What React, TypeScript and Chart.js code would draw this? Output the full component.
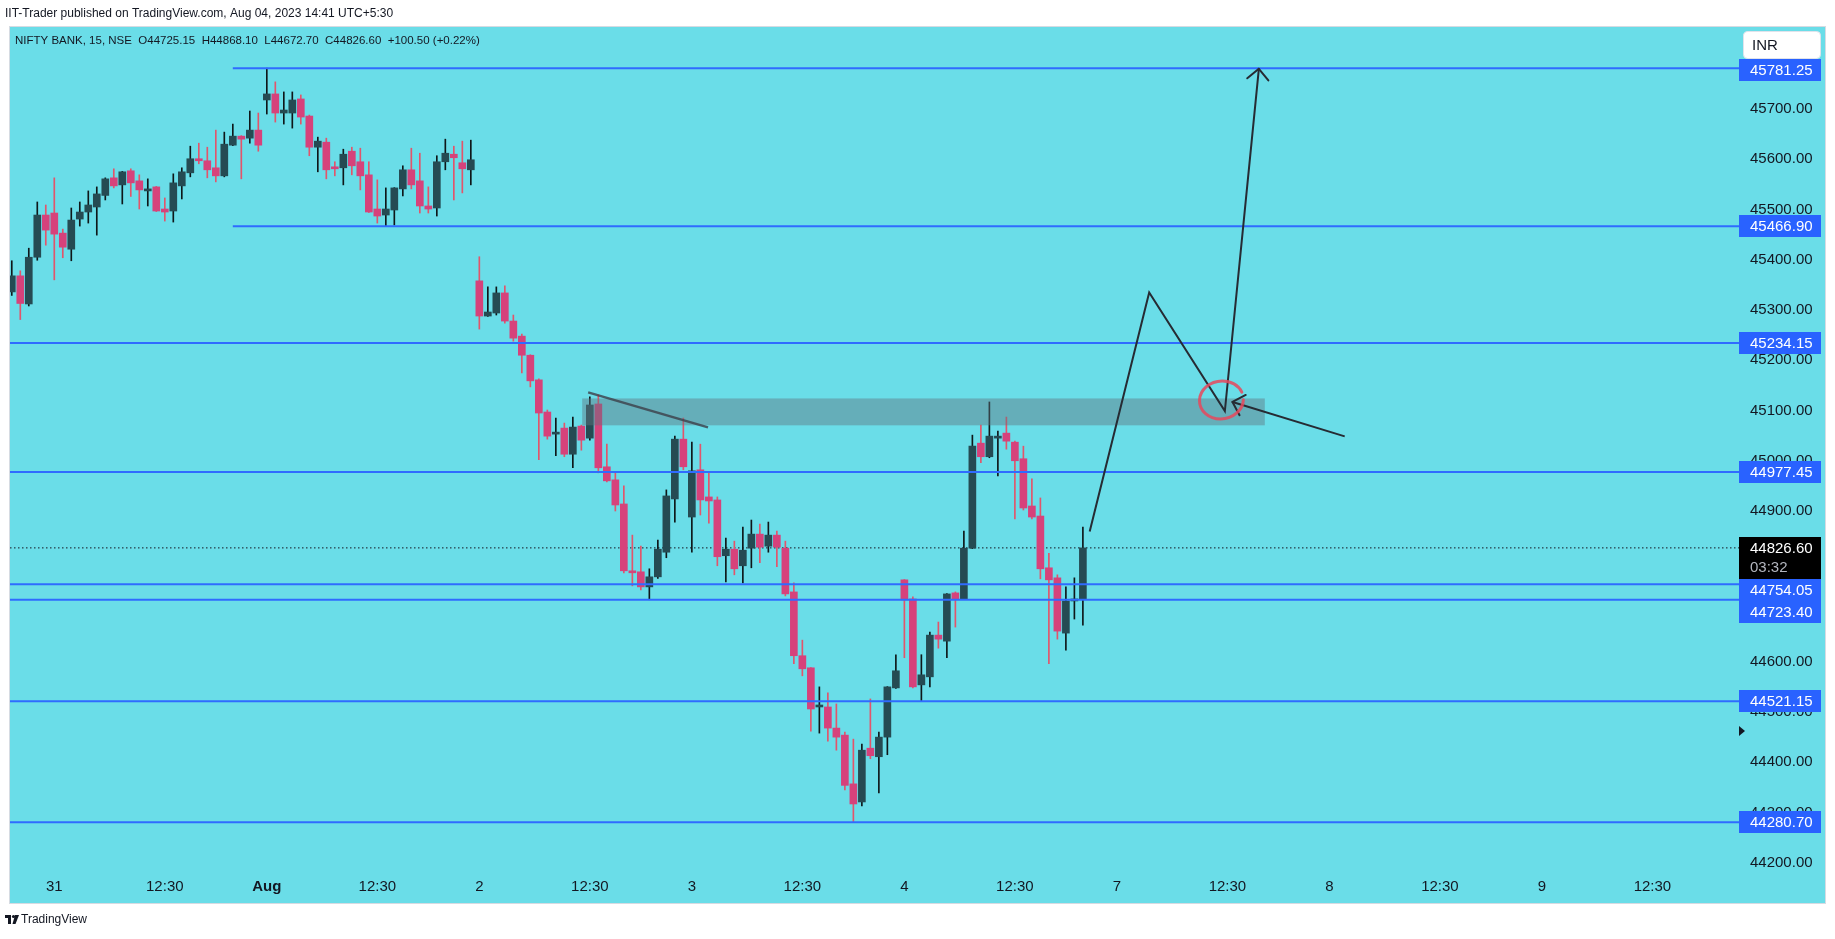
import React, { useEffect, useRef } from 'react';
import { Chart, registerables } from 'chart.js';

Chart.register(...registerables);

const W = 1835;
const H = 939;
const FONT = '"Liberation Sans", Arial, sans-serif';
const CYAN = 'rgb(106,221,232)';

// 15-minute bars, index 0 = 31 Jul 09:15 (negative = 28 Jul tail)
const FIRST_BAR = -5;
const opens = [
  45336, 45368, 45312, 45405, 45489,
  45493, 45453, 45421, 45481, 45495, 45505, 45528, 45563, 45549, 45577, 45557, 45537, 45545, 45501, 45497, 45547, 45573, 45601, 45597, 45583, 45567, 45628, 45646, 45642, 45658,
  45718, 45730, 45692, 45692, 45720, 45686, 45624, 45634, 45585, 45583, 45616, 45595, 45569, 45501, 45489, 45499, 45541, 45579, 45557, 45507, 45503, 45595, 45610, 45593, 45579,
  45358, 45288, 45294, 45334, 45278, 45248, 45210, 45161, 45097, 45053, 45065, 45013, 45069, 45045, 45113, 44988, 44962, 44914, 44781, 44779, 44749, 44769, 44818, 44924, 45043,
  44888, 44982, 44928, 44922, 44811, 44824, 44791, 44826, 44854, 44830, 44852, 44826, 44739, 44612, 44588, 44510, 44510, 44468, 44454, 44357, 44321, 44428, 44411, 44450, 44548,
  44763, 44725, 44554, 44570, 44653, 44641, 44737, 44725, 44826, 45035, 45008, 45045, 45055, 45037, 45004, 44910, 44890, 44787, 44767, 44657, 44721, 44725.15,
];
const highs = [
  45398, 45378, 45423, 45515, 45509,
  45563, 45461, 45503, 45515, 45537, 45545, 45563, 45581, 45576, 45581, 45569, 45561, 45546, 45523, 45571, 45583, 45626, 45632, 45624, 45658, 45654, 45670, 45647, 45696, 45692,
  45781.25, 45754, 45734, 45734, 45728, 45688, 45644, 45642, 45595, 45620, 45624, 45622, 45595, 45559, 45543, 45543.5, 45587, 45622, 45612, 45545, 45607, 45640, 45626, 45636, 45638,
  45406, 45346, 45346, 45348, 45290, 45252, 45211, 45163, 45101, 45085, 45075, 45087, 45071, 45127, 45131, 45033, 44978, 44950, 44852, 44830, 44785, 44842, 44942, 45049, 45085,
  45037, 45033, 44978, 44928, 44846, 44840, 44868, 44882, 44874, 44878, 44860, 44840, 44757, 44643, 44588.5, 44550, 44538, 44516, 44460, 44446, 44436, 44526, 44460, 44550.5, 44614,
  44763.5, 44729, 44614, 44659, 44679, 44735.5, 44739, 44860, 45051, 45071, 45117, 45059, 45087, 45039, 45029, 44964, 44926, 44816, 44773, 44749, 44767, 44868.1,
];
const lows = [
  45329, 45281, 45308, 45399, 45429,
  45360, 45404, 45398, 45467, 45473, 45449, 45519, 45543, 45511, 45526, 45501, 45507, 45496, 45477, 45475, 45521, 45565, 45591, 45563, 45555, 45565, 45627, 45561, 45632, 45616,
  45690, 45674, 45670, 45662, 45670, 45607, 45575, 45561, 45567, 45549, 45569, 45539, 45494, 45473, 45466.9, 45469, 45527, 45541, 45493, 45493, 45487, 45579, 45519, 45533, 45549,
  45262, 45287, 45290, 45274, 45238, 45175, 45147, 45002, 45043, 45010, 45008, 44986, 45021, 45041, 44976, 44958, 44900, 44777, 44751, 44743, 44723.4, 44766, 44807, 44878, 44982,
  44818, 44892, 44876, 44791, 44759, 44773, 44757, 44787, 44797, 44818, 44789, 44731, 44596, 44572, 44462, 44458, 44442, 44424, 44345, 44280.7, 44313, 44407, 44339, 44415, 44547,
  44608, 44548, 44521.15, 44550, 44627, 44608, 44669, 44724, 44825, 44996, 45006, 44970, 45023, 44884, 44902, 44884, 44765, 44596, 44645, 44623, 44685, 44672.7,
];
const closes = [
  45368, 45313, 45405, 45489, 45459,
  45451, 45425, 45479, 45495, 45509, 45531, 45561, 45547, 45575, 45553, 45539, 45541, 45497, 45495, 45553, 45575, 45601, 45597, 45579, 45567, 45630, 45646, 45640, 45658, 45628,
  45730, 45692, 45698, 45718, 45684, 45624, 45636, 45579, 45581, 45610, 45587, 45567, 45495, 45487, 45501, 45543, 45579, 45549, 45507, 45501, 45595, 45612, 45603, 45581, 45599,
  45288, 45296, 45334, 45278, 45244, 45210, 45159, 45095, 45049, 45055, 45013, 45067, 45041, 45111, 44986, 44960, 44912, 44781, 44777, 44749, 44769, 44824, 44930, 45043, 44988,
  44980, 44922, 44920, 44809, 44824, 44785, 44822, 44854, 44828, 44852, 44828, 44735, 44612, 44586, 44506, 44512, 44468, 44450, 44354, 44317, 44424, 44413, 44450, 44550, 44582,
  44723, 44550, 44574, 44653, 44645, 44735, 44725, 44826, 45029, 45008, 45049, 45049, 45039, 45000, 44906, 44888, 44785, 44763, 44661, 44721, 44725, 44826.6,
];

// time axis
const tickPositions = [0, 13, 25, 38, 50, 63, 75, 88, 100, 113, 125, 138, 150, 163, 175, 188];
const tickLabels = ['31', '12:30', 'Aug', '12:30', '2', '12:30', '3', '12:30', '4', '12:30', '7', '12:30', '8', '12:30', '9', '12:30'];
const boldTick = 25;
const X_MIN = -5.21;
const X_MAX = 198.3;

// price axis
const yTickValues = [44200, 44300, 44400, 44500, 44600, 44700, 44800, 44900, 45000, 45100, 45200, 45300, 45400, 45500, 45600, 45700];
const Y_MIN = 44179.6;
const Y_MAX = 45863.2;

// horizontal levels
const levelValues = [45781.25, 45466.9, 45234.15, 44977.45, 44754.05, 44723.4, 44521.15, 44280.7];
const levelStarts = [21, 21, X_MIN, X_MIN, X_MIN, X_MIN, X_MIN, X_MIN];

const lastPrice = 44826.6;
const lastCountdown = '03:32';

// drawings
const zoneX = [62.1, 142.4];
const zoneY = [45070.5, 45124];
const trendX = [62.8, 76.9];
const trendY = [45136, 45066.5];
const zigX = [121.8, 128.8, 137.7, 141.7];
const zigY = [44859, 45335, 45099, 45780];
const arrow2X = [151.8, 138.6];
const arrow2Y = [45048.6, 45117];
const circleCenter = [137.3, 45121];

const BULL_BODY = '#254b53';
const BULL_WICK = '#0e1719';
const BEAR_BODY = '#d6427b';
const BEAR_WICK = '#e2556b';
const LEVEL_COLOR = '#2f6bff';
const LABEL_BG = '#2962ff';

function arrowHead(ctx: CanvasRenderingContext2D, tx: number, ty: number, fx: number, fy: number, len: number, ang: number) {
  const a = Math.atan2(fy - ty, fx - tx);
  for (const s of [-1, 1]) {
    const b = a + (s * ang * Math.PI) / 180;
    ctx.beginPath();
    ctx.moveTo(tx, ty);
    ctx.lineTo(tx + len * Math.cos(b), ty + len * Math.sin(b));
    ctx.stroke();
  }
}

export default function App() {
  const ref = useRef<HTMLCanvasElement | null>(null);

  useEffect(() => {
    const canvas = ref.current;
    if (!canvas) return;

    const bodies: any[] = [];
    const wicks: any[] = [];
    const bodyColors: string[] = [];
    const wickColors: string[] = [];
    for (let k = 0; k < opens.length; k++) {
      const x = FIRST_BAR + k;
      const up = closes[k] >= opens[k];
      bodies.push({ x, y: [opens[k], closes[k]] });
      wicks.push({ x, y: [lows[k], highs[k]] });
      bodyColors.push(up ? BULL_BODY : BEAR_BODY);
      wickColors.push(up ? BULL_WICK : BEAR_WICK);
    }

    const levelSets = levelValues.map((v, k) => ({
      type: 'line' as const,
      data: [{ x: levelStarts[k], y: v }, { x: X_MAX, y: v }],
      borderColor: LEVEL_COLOR,
      borderWidth: 2,
      pointRadius: 0,
      order: 10,
    }));

    const BODY_INDEX = 1;

    const overlay = {
      id: 'overlay',
      beforeDraw(chart: any) {
        const ctx = chart.ctx as CanvasRenderingContext2D;
        ctx.save();
        ctx.fillStyle = '#ffffff';
        ctx.fillRect(0, 0, W, H);
        ctx.fillStyle = CYAN;
        ctx.fillRect(10, 27, 1815, 876);
        ctx.strokeStyle = '#d6dbe2';
        ctx.lineWidth = 1;
        ctx.strokeRect(9.5, 26.5, 1816, 877);
        ctx.restore();
      },
      afterDatasetDraw(chart: any, args: any) {
        if (args.index !== BODY_INDEX) return;
        const ctx = chart.ctx as CanvasRenderingContext2D;
        const xs = chart.scales.x;
        const ys = chart.scales.y;
        const x0 = xs.getPixelForValue(zoneX[0]);
        const x1 = xs.getPixelForValue(zoneX[1]);
        const y0 = ys.getPixelForValue(zoneY[1]);
        const y1 = ys.getPixelForValue(zoneY[0]);
        ctx.save();
        ctx.fillStyle = 'rgba(96,117,128,0.45)';
        ctx.fillRect(x0, y0, x1 - x0, y1 - y0);
        ctx.restore();
      },
      afterDraw(chart: any) {
        const ctx = chart.ctx as CanvasRenderingContext2D;
        const xs = chart.scales.x;
        const ys = chart.scales.y;
        ctx.save();

        // arrow heads
        ctx.strokeStyle = '#262b33';
        ctx.lineWidth = 2;
        ctx.lineCap = 'round';
        const n = zigX.length;
        arrowHead(ctx, xs.getPixelForValue(zigX[n - 1]), ys.getPixelForValue(zigY[n - 1]),
          xs.getPixelForValue(zigX[n - 2]), ys.getPixelForValue(zigY[n - 2]), 15, 45);
        arrowHead(ctx, xs.getPixelForValue(arrow2X[1]), ys.getPixelForValue(arrow2Y[1]),
          xs.getPixelForValue(arrow2X[0]), ys.getPixelForValue(arrow2Y[0]), 15, 45);

        // red circle
        const cx = xs.getPixelForValue(circleCenter[0]);
        const cy = ys.getPixelForValue(circleCenter[1]);
        ctx.strokeStyle = 'rgba(232,72,92,0.85)';
        ctx.lineWidth = 3;
        ctx.beginPath();
        ctx.ellipse(cx, cy, 22, 19, -0.15, Math.PI * 0.05, Math.PI * 1.92);
        ctx.stroke();

        // price labels: stack boxes so they do not overlap (INR button + last price box are fixed)
        const ly = ys.getPixelForValue(lastPrice);
        const lastTop = Math.round(ly) - 11;
        const lastBottom = lastTop + 42;
        const fixed: Array<[number, number]> = [[31, 59], [lastTop, lastBottom]];
        const items = levelValues
          .map((v) => ({ v, y: ys.getPixelForValue(v) }))
          .sort((a, b) => a.y - b.y);
        const placed: Array<[number, number]> = [];
        const boxes: Array<{ v: number; top: number }> = [];
        for (const it of items) {
          let top = Math.round(it.y) - 11;
          let moved = true;
          while (moved) {
            moved = false;
            for (const [a, b] of [...fixed, ...placed]) {
              if (top < b && top + 22 > a) {
                top = b;
                moved = true;
              }
            }
          }
          placed.push([top, top + 22]);
          boxes.push({ v: it.v, top });
        }
        ctx.font = `15px ${FONT}`;
        ctx.textBaseline = 'middle';
        ctx.textAlign = 'left';
        for (const b of boxes) {
          ctx.fillStyle = LABEL_BG;
          ctx.fillRect(1739, b.top, 82, 22);
          ctx.fillStyle = '#ffffff';
          ctx.fillText(b.v.toFixed(2), 1750, b.top + 12);
        }
        ctx.fillStyle = '#000000';
        ctx.fillRect(1739, lastTop, 82, 42);
        ctx.fillStyle = '#ffffff';
        ctx.fillText(lastPrice.toFixed(2), 1750, lastTop + 12);
        ctx.fillStyle = '#b2b5be';
        ctx.fillText(lastCountdown, 1750, lastTop + 31);

        // INR button
        ctx.fillStyle = '#ffffff';
        ctx.strokeStyle = '#e0e3eb';
        ctx.lineWidth = 1;
        ctx.beginPath();
        (ctx as any).roundRect(1743.5, 31.5, 77, 27, 4);
        ctx.fill();
        ctx.stroke();
        ctx.fillStyle = '#131722';
        ctx.fillText('INR', 1752, 46);

        // small marker triangle
        ctx.fillStyle = '#131722';
        ctx.beginPath();
        ctx.moveTo(1739, 726);
        ctx.lineTo(1745, 731);
        ctx.lineTo(1739, 736);
        ctx.closePath();
        ctx.fill();

        // header texts
        ctx.fillStyle = '#131722';
        ctx.font = `12px ${FONT}`;
        ctx.fillText('IIT-Trader published on TradingView.com, Aug 04, 2023 14:41 UTC+5:30', 5, 14);
        ctx.font = `11.5px ${FONT}`;
        ctx.fillText('NIFTY BANK, 15, NSE  O44725.15  H44868.10  L44672.70  C44826.60  +100.50 (+0.22%)', 15, 41);

        // footer logo
        ctx.fillStyle = '#131722';
        ctx.fillRect(5, 915, 6, 3);
        ctx.fillRect(8, 915, 3, 9);
        ctx.beginPath();
        ctx.arc(13.5, 916.5, 1.6, 0, Math.PI * 2);
        ctx.fill();
        ctx.beginPath();
        ctx.moveTo(15, 915);
        ctx.lineTo(19, 915);
        ctx.lineTo(15.5, 924);
        ctx.lineTo(12.5, 924);
        ctx.closePath();
        ctx.fill();
        ctx.font = `12px ${FONT}`;
        ctx.fillText('TradingView', 21, 920);

        ctx.restore();
      },
    };

    const chart = new Chart(canvas, {
      type: 'bar',
      data: {
        datasets: [
          {
            type: 'bar',
            data: wicks,
            backgroundColor: wickColors,
            barThickness: 1,
            grouped: false,
            order: 20,
          } as any,
          {
            type: 'bar',
            data: bodies,
            backgroundColor: bodyColors,
            barThickness: 7,
            minBarLength: 2,
            grouped: false,
            order: 19,
          } as any,
          {
            type: 'line',
            data: [{ x: X_MIN, y: lastPrice }, { x: X_MAX, y: lastPrice }],
            borderColor: '#131722',
            borderWidth: 1,
            borderDash: [1.5, 2.5],
            pointRadius: 0,
            order: 25,
          } as any,
          ...levelSets,
          {
            type: 'line',
            data: trendX.map((x, k) => ({ x, y: trendY[k] })),
            borderColor: 'rgba(60,62,72,0.8)',
            borderWidth: 2.5,
            pointRadius: 0,
            order: 5,
          } as any,
          {
            type: 'line',
            data: zigX.map((x, k) => ({ x, y: zigY[k] })),
            borderColor: '#262b33',
            borderWidth: 2,
            pointRadius: 0,
            tension: 0,
            order: 4,
          } as any,
          {
            type: 'line',
            data: arrow2X.map((x, k) => ({ x, y: arrow2Y[k] })),
            borderColor: '#262b33',
            borderWidth: 2,
            pointRadius: 0,
            order: 4,
          } as any,
        ],
      },
      options: {
        animation: false,
        responsive: false,
        maintainAspectRatio: false,
        devicePixelRatio: 1,
        layout: { padding: { left: 10, top: 27, right: 10, bottom: 38 } },
        plugins: { legend: { display: false }, tooltip: { enabled: false } },
        scales: {
          x: {
            type: 'linear',
            min: X_MIN,
            max: X_MAX,
            offset: false,
            grid: { display: false, drawTicks: false },
            border: { display: false },
            afterBuildTicks: (s: any) => {
              s.ticks = tickPositions.map((v) => ({ value: v }));
            },
            afterFit: (s: any) => {
              s.height = 28;
            },
            ticks: {
              autoSkip: false,
              maxRotation: 0,
              padding: 5,
              color: '#131722',
              font: (c: any) => ({
                family: FONT,
                size: 15,
                weight: c.tick && c.tick.value === boldTick ? 'bold' : 'normal',
              }),
              callback: (v: any) => {
                const k = tickPositions.indexOf(Number(v));
                return k >= 0 ? tickLabels[k] : '';
              },
            },
          },
          y: {
            type: 'linear',
            position: 'right',
            min: Y_MIN,
            max: Y_MAX,
            grid: { display: false, drawTicks: false },
            border: { display: false },
            afterBuildTicks: (s: any) => {
              s.ticks = yTickValues.map((v) => ({ value: v }));
            },
            afterFit: (s: any) => {
              s.width = 85;
            },
            ticks: {
              padding: 10,
              color: '#131722',
              font: { family: FONT, size: 15 },
              callback: (v: any) => Number(v).toFixed(2),
            },
          },
        },
      } as any,
      plugins: [overlay],
    });

    return () => chart.destroy();
  }, []);

  return (
    <div style={{ position: 'absolute', left: 0, top: 0, width: W, height: H, background: '#ffffff' }}>
      <canvas ref={ref} width={W} height={H} style={{ width: W, height: H, display: 'block' }} />
    </div>
  );
}
